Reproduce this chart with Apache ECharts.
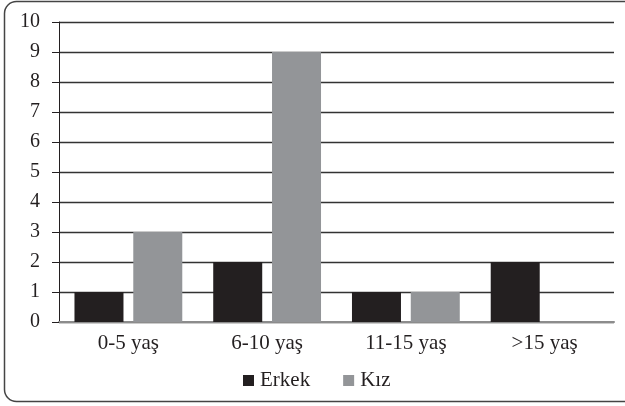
<!DOCTYPE html>
<html>
<head>
<meta charset="utf-8">
<script src="https://cdn.jsdelivr.net/npm/echarts@6/dist/echarts.min.js"></script>
<style>
html,body{margin:0;padding:0;background:#fff;}
#c{width:625px;height:406px;}
</style>
</head>
<body>
<div id="c"></div>
<script>
var categories = ['0-5 yaş', '6-10 yaş', '11-15 yaş', '>15 yaş'];
var seriesNames = ['Erkek', 'Kız'];
var erkek = [1, 2, 1, 2];
var kiz = [3, 9, 1, 0];
var yTicks = [0, 10, 1];

var FONT = "'Liberation Serif', 'Times New Roman', serif";
var chart = echarts.init(document.getElementById('c'), null, {renderer: 'canvas'});
chart.setOption({
  animation: false,
  backgroundColor: '#fff',
  textStyle: {fontFamily: FONT},
  graphic: [{
    type: 'rect',
    shape: {x: 4.5, y: 1.5, width: 660, height: 400, r: 12},
    style: {fill: 'none', stroke: '#444', lineWidth: 1.5},
    silent: true,
    z: 0
  }],
  grid: {left: 59, right: 11, top: 22, bottom: 84, containLabel: false},
  legend: {
    data: seriesNames,
    top: 370,
    left: 243,
    padding: 0,
    itemWidth: 11,
    itemHeight: 11,
    itemGap: 33,
    icon: 'rect',
    textStyle: {fontFamily: FONT, fontSize: 21, color: '#231f20', padding: [0, 0, 0, 1]}
  },
  xAxis: {
    type: 'category',
    data: categories,
    axisLine: {show: true, lineStyle: {color: '#8c8c8c', width: 2}},
    axisTick: {show: false},
    axisLabel: {fontFamily: FONT, fontSize: 21, color: '#231f20', margin: 11}
  },
  yAxis: {
    type: 'value',
    min: yTicks[0],
    max: yTicks[1],
    interval: yTicks[2],
    axisLine: {show: true, lineStyle: {color: '#231f20', width: 1}},
    axisTick: {show: true, length: 7, lineStyle: {color: '#231f20', width: 1}},
    axisLabel: {fontFamily: FONT, fontSize: 20, color: '#231f20', margin: 19},
    splitLine: {show: true, lineStyle: {color: '#333', width: 1.3}}
  },
  series: [
    {name: seriesNames[0], type: 'bar', data: erkek, barWidth: 49, barGap: '20%',
     itemStyle: {color: '#231f20'}},
    {name: seriesNames[1], type: 'bar', data: kiz, barWidth: 49, barGap: '20%',
     itemStyle: {color: '#939598'}}
  ]
});
</script>
</body>
</html>
